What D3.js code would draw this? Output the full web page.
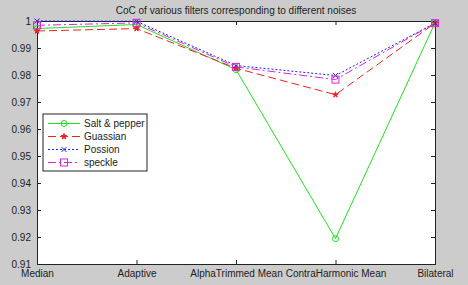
<!DOCTYPE html>
<html>
<head>
<meta charset="utf-8">
<script src="https://cdn.jsdelivr.net/npm/d3@7"></script>
<style>
body { margin: 0; background: #cccccc; }
text { font-family: Arial, "Liberation Sans", sans-serif; }
</style>
</head>
<body>
<div id="chart"></div>
<script>
var w = 468;
var h = 285;

var filters = ["Median", "Adaptive", "AlphaTrimmed Mean", "ContraHarmonic Mean", "Bilateral"];
var yTicks = [0.91, 0.92, 0.93, 0.94, 0.95, 0.96, 0.97, 0.98, 0.99, 1];

var saltPepper = [0.9972, 0.9987, 0.9820, 0.9194, 0.9993];
var guassian   = [0.9963, 0.9972, 0.9825, 0.9727, 0.9992];
var possion    = [1.0000, 0.9999, 0.9835, 0.9798, 0.9992];
var speckle    = [0.9984, 0.9993, 0.9830, 0.9783, 0.9992];

var series = [
  {name: "Salt & pepper", values: saltPepper, color: "#22dd22", dash: null, marker: "circle"},
  {name: "Guassian", values: guassian, color: "#ee2222", dash: "8,4", marker: "star"},
  {name: "Possion", values: possion, color: "#2222dd", dash: "2,2", marker: "x"},
  {name: "speckle", values: speckle, color: "#dd22dd", dash: "8,3,2,3", marker: "square"}
];

var margin = {left: 37, right: 33, top: 21, bottom: 21};

var svg = d3.select("#chart")
            .append("svg")
            .attr("width", w)
            .attr("height", h);

var x = d3.scalePoint()
          .domain(filters)
          .range([margin.left, w - margin.right]);

var y = d3.scaleLinear()
          .domain([0.91, 1])
          .range([h - margin.bottom, margin.top]);

// axes area
svg.append("rect")
   .attr("x", margin.left)
   .attr("y", margin.top)
   .attr("width", w - margin.left - margin.right)
   .attr("height", h - margin.top - margin.bottom)
   .attr("fill", "white");

var yAxis = d3.axisLeft(y).tickValues(yTicks).tickSize(-4).tickPadding(6)
              .tickFormat(function(d) { return d == 1 ? "1" : d3.format(".2f")(d); });
var yAxisR = d3.axisRight(y).tickValues(yTicks).tickSize(-4).tickFormat("");
var xAxis = d3.axisBottom(x).tickSize(-4).tickPadding(6);
var xAxisT = d3.axisTop(x).tickSize(-4).tickFormat("");

svg.append("g").attr("transform", "translate(" + margin.left + ",0)").call(yAxis);
svg.append("g").attr("transform", "translate(" + (w - margin.right) + ",0)").call(yAxisR);
svg.append("g").attr("transform", "translate(0," + (h - margin.bottom) + ")").call(xAxis);
svg.append("g").attr("transform", "translate(0," + margin.top + ")").call(xAxisT);

svg.selectAll(".domain").attr("stroke", "#222");
svg.selectAll(".tick line").attr("stroke", "#222");
svg.selectAll(".tick text").attr("fill", "#222").style("font-size", "10px");

var line = d3.line()
             .x(function(d, i) { return x(filters[i]); })
             .y(function(d) { return y(d); });

function drawMarker(g, type, cx, cy, color) {
  if (type == "circle") {
    g.append("circle").attr("cx", cx).attr("cy", cy).attr("r", 3)
     .attr("fill", "none").attr("stroke", color);
  } else if (type == "square") {
    g.append("rect").attr("x", cx - 3.5).attr("y", cy - 3.5).attr("width", 7).attr("height", 7)
     .attr("fill", "none").attr("stroke", color);
  } else if (type == "x") {
    g.append("path").attr("d", "M" + (cx-2.5) + "," + (cy-2.5) + "L" + (cx+2.5) + "," + (cy+2.5) +
                               "M" + (cx-2.5) + "," + (cy+2.5) + "L" + (cx+2.5) + "," + (cy-2.5))
     .attr("stroke", color);
  } else {
    g.append("path").attr("d", d3.symbol().type(d3.symbolStar).size(10)())
     .attr("transform", "translate(" + cx + "," + cy + ")")
     .attr("fill", color).attr("stroke", color);
  }
}

series.forEach(function(s) {
  svg.append("path")
     .datum(s.values)
     .attr("d", line)
     .attr("fill", "none")
     .attr("stroke", s.color)
     .attr("stroke-width", 1)
     .attr("stroke-dasharray", s.dash);
  var g = svg.append("g");
  s.values.forEach(function(v, i) {
    drawMarker(g, s.marker, x(filters[i]), y(v), s.color);
  });
});

// title
svg.append("text")
   .attr("x", (margin.left + w - margin.right) / 2)
   .attr("y", 14)
   .attr("text-anchor", "middle")
   .style("font-size", "10px")
   .attr("fill", "#222")
   .text("CoC of various filters corresponding to different noises");

// legend
var legend = svg.append("g").attr("transform", "translate(43,114)");
legend.append("rect")
      .attr("width", 104).attr("height", 57)
      .attr("fill", "white").attr("stroke", "#222");
series.forEach(function(s, i) {
  var ly = 9.5 + i * 13;
  legend.append("line")
        .attr("x1", 5).attr("x2", 37).attr("y1", ly).attr("y2", ly)
        .attr("stroke", s.color).attr("stroke-dasharray", s.dash);
  drawMarker(legend, s.marker, 21, ly, s.color);
  legend.append("text")
        .attr("x", 41).attr("y", ly + 3.5)
        .style("font-size", "10px")
        .attr("fill", "#222")
        .text(s.name);
});
</script>
</body>
</html>
